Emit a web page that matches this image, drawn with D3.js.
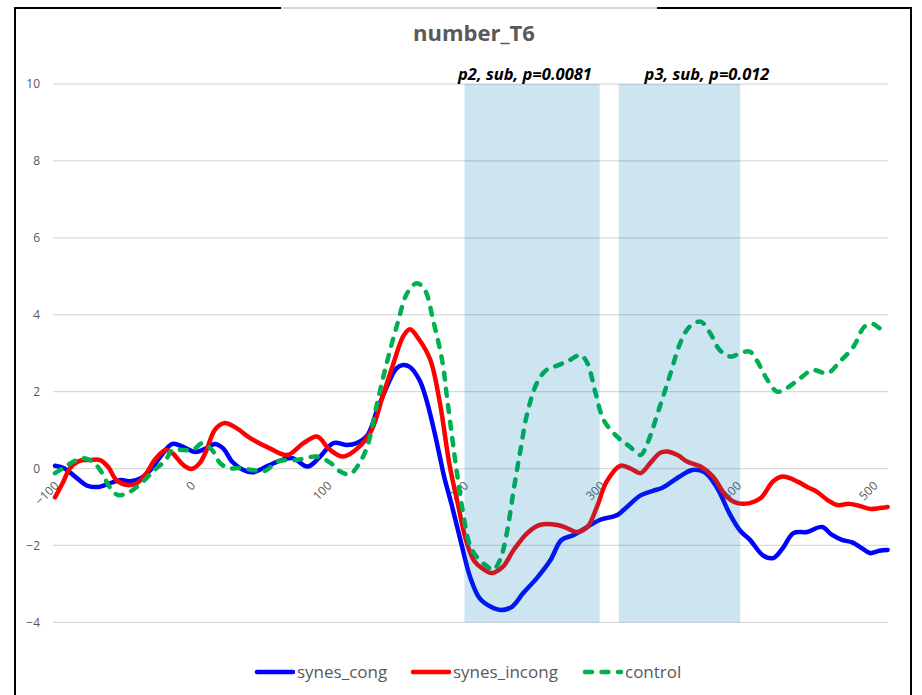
<!DOCTYPE html>
<html>
<head>
<meta charset="utf-8">
<script src="https://cdn.jsdelivr.net/npm/d3@7/dist/d3.min.js"></script>
<style>
  html, body { margin: 0; padding: 0; background: #ffffff; }
  svg { display: block; }
</style>
</head>
<body>
<svg id="chart" width="922" height="695"></svg>
<script>
// Grand-average waveforms, time in ms, amplitude in µV
const xTickValues = [-100, 0, 100, 200, 300, 400, 500];
const yTickValues = [-4, -2, 0, 2, 4, 6, 8, 10];
const seriesNames = ["synes_cong", "synes_incong", "control"];

const synesCong = [
  [-100, 0.07], [-93, 0.0], [-84, -0.25], [-76, -0.45], [-68, -0.48], [-61, -0.4],
  [-52, -0.3], [-45, -0.33], [-38, -0.27], [-30, -0.04], [-23, 0.3], [-14, 0.64],
  [-6, 0.56], [3, 0.43], [11, 0.53], [17, 0.64], [23, 0.53], [30, 0.17], [38, -0.04],
  [45, -0.1], [52, 0.0], [63, 0.18], [74, 0.27], [85, 0.05], [94, 0.3], [104, 0.66],
  [114, 0.61], [121, 0.66], [129, 0.87], [136, 1.52], [143, 2.12], [150, 2.6],
  [155, 2.69], [160, 2.64], [167, 2.3], [172, 1.8], [177, 1.1], [182, 0.3],
  [185, -0.2], [191, -1.0], [198, -2.0], [204, -2.81], [211, -3.37], [219, -3.59],
  [227, -3.68], [235, -3.59], [243, -3.24], [253, -2.85], [263, -2.38], [271, -1.86],
  [280, -1.73], [290, -1.52], [299, -1.34], [312, -1.21], [319, -1.0], [329, -0.7],
  [338, -0.58], [345, -0.5], [358, -0.2], [367, -0.04], [376, -0.1], [385, -0.5],
  [394, -1.16], [402, -1.62], [409, -1.85], [419, -2.27], [426, -2.33], [433, -2.08],
  [441, -1.68], [451, -1.65], [462, -1.52], [469, -1.72], [477, -1.86], [484, -1.92],
  [491, -2.07], [497, -2.2], [504, -2.14], [510, -2.12]
];

const synesIncong = [
  [-100, -0.75], [-94, -0.35], [-89, 0.01], [-82, 0.2], [-74, 0.22], [-67, 0.22],
  [-61, 0.04], [-55, -0.3], [-47, -0.43], [-40, -0.38], [-33, -0.12], [-27, 0.22],
  [-19, 0.48], [-14, 0.4], [-6, 0.09], [0, -0.01], [6, 0.14], [11, 0.48], [17, 1.0],
  [24, 1.18], [33, 1.05], [43, 0.79], [57, 0.53], [70, 0.35], [82, 0.66], [92, 0.83],
  [101, 0.5], [111, 0.31], [123, 0.57], [132, 1.0], [140, 1.87], [148, 2.74],
  [155, 3.43], [160, 3.62], [167, 3.34], [175, 2.82], [182, 1.7], [189, 0.1],
  [195, -0.9], [201, -1.85], [207, -2.4], [213, -2.6], [220, -2.72], [228, -2.56],
  [236, -2.12], [246, -1.68], [255, -1.47], [268, -1.47], [275, -1.55], [282, -1.65],
  [290, -1.52], [297, -1.0], [304, -0.35], [314, 0.07], [321, 0.01], [329, -0.12],
  [336, 0.14], [343, 0.4], [348, 0.44], [356, 0.35], [363, 0.18], [373, 0.05],
  [382, -0.21], [392, -0.73], [400, -0.9], [409, -0.9], [417, -0.77], [426, -0.34],
  [433, -0.21], [444, -0.34], [451, -0.48], [458, -0.6], [466, -0.82], [473, -0.95],
  [482, -0.92], [490, -0.98], [497, -1.05], [504, -1.03], [510, -1.0]
];

const control = [
  [-100, -0.12], [-94, 0.01], [-87, 0.17], [-80, 0.27], [-72, 0.17], [-66, -0.09],
  [-60, -0.48], [-54, -0.69], [-47, -0.64], [-40, -0.48], [-33, -0.25], [-27, -0.04],
  [-19, 0.22], [-14, 0.48], [-6, 0.48], [1, 0.48], [8, 0.66], [15, 0.48], [21, 0.14],
  [27, 0.01], [36, 0.01], [45, -0.04], [54, -0.06], [63, 0.18], [77, 0.22], [92, 0.31],
  [102, 0.14], [109, -0.08], [116, -0.15], [123, 0.14], [129, 0.6], [136, 1.7],
  [143, 2.74], [151, 3.78], [158, 4.56], [165, 4.82], [171, 4.64], [177, 3.86],
  [184, 2.74], [187, 1.9], [191, 0.8], [194, 0.0], [198, -0.95], [204, -2.0],
  [209, -2.3], [217, -2.56], [221, -2.64], [226, -2.38], [231, -1.68], [236, -0.56],
  [241, 0.48], [246, 1.44], [253, 2.22], [260, 2.56], [269, 2.69], [277, 2.82],
  [285, 2.95], [290, 2.74], [296, 1.96], [302, 1.26], [312, 0.82], [321, 0.57],
  [329, 0.35], [334, 0.66], [343, 1.6], [351, 2.48], [358, 3.26], [365, 3.69],
  [373, 3.82], [380, 3.52], [387, 3.08], [395, 2.91], [402, 3.0], [409, 3.04],
  [414, 2.82], [422, 2.3], [429, 2.0], [436, 2.09], [446, 2.35], [455, 2.56],
  [466, 2.48], [475, 2.78], [485, 3.17], [493, 3.69], [499, 3.76], [504, 3.65],
  [508, 3.55]
];

// Analysis windows (ms) with their test results
const windowRanges = [[200, 299], [313, 402]];
const windowLabels = ["p2, sub, p=0.0081", "p3, sub, p=0.012"];

// ---- layout ----
const W = 922, H = 695;
const plotLeft = 53, plotRight = 888;
const font = "'Open Sans', 'Liberation Sans', sans-serif";
const grey = "#595959";

const svg = d3.select("#chart");

const x = d3.scaleLinear().domain([-100, 500]).range([55, 874]);
const y = d3.scaleLinear().domain([-4, 10]).range([622.3, 84]);

svg.append("rect").attr("width", W).attr("height", H).attr("fill", "#ffffff");

// outer frame
const frame = svg.append("g").attr("fill", "none");
frame.append("line").attr("x1", 15).attr("x2", 15).attr("y1", 8).attr("y2", H)
  .attr("stroke", "#000").attr("stroke-width", 2);
frame.append("line").attr("x1", 911).attr("x2", 911).attr("y1", 8).attr("y2", H)
  .attr("stroke", "#000").attr("stroke-width", 2);
frame.append("line").attr("x1", 14).attr("x2", 281).attr("y1", 8).attr("y2", 8)
  .attr("stroke", "#000").attr("stroke-width", 2);
frame.append("line").attr("x1", 281).attr("x2", 657).attr("y1", 8).attr("y2", 8)
  .attr("stroke", "#b0b0b0").attr("stroke-width", 1);
frame.append("line").attr("x1", 657).attr("x2", 912).attr("y1", 8).attr("y2", 8)
  .attr("stroke", "#000").attr("stroke-width", 2);

// title
svg.append("text")
  .attr("x", 474).attr("y", 41)
  .attr("text-anchor", "middle")
  .attr("font-family", font).attr("font-size", 22).attr("font-weight", "bold")
  .attr("fill", grey)
  .text("number_T6");

// horizontal gridlines
svg.append("g").selectAll("line")
  .data(yTickValues)
  .join("line")
  .attr("x1", plotLeft).attr("x2", plotRight)
  .attr("y1", d => y(d)).attr("y2", d => y(d))
  .attr("stroke", "#d9d9d9").attr("stroke-width", 1.25);

// value axis labels
const yAxis = d3.axisLeft(y).tickValues(yTickValues).tickSize(0).tickPadding(0)
  .tickFormat(d3.format("d"));
const gy = svg.append("g").attr("transform", "translate(40,0)").call(yAxis);
gy.select(".domain").remove();
gy.selectAll("text")
  .attr("font-family", font).attr("font-size", 12).attr("fill", grey);

// time axis labels, rotated
const xAxis = d3.axisBottom(x).tickValues(xTickValues).tickSize(0).tickPadding(0)
  .tickFormat(d3.format("d"));
const gx = svg.append("g").attr("transform", `translate(0,${y(0)})`).call(xAxis);
gx.select(".domain").remove();
gx.selectAll("text")
  .attr("font-family", font).attr("font-size", 12).attr("fill", grey)
  .attr("text-anchor", "end")
  .attr("y", 0).attr("dy", 0)
  .attr("transform", "translate(4,18) rotate(-45)");

// waveforms
const line = d3.line()
  .x(d => x(d[0]))
  .y(d => y(d[1]))
  .curve(d3.curveCatmullRom.alpha(0.5));

const seriesData = [synesCong, synesIncong, control];
const seriesColors = ["#0000ff", "#ff0000", "#00b050"];
const seriesDash = [null, null, "7,9.5"];

svg.append("g").selectAll("path")
  .data(seriesData)
  .join("path")
  .attr("d", line)
  .attr("fill", "none")
  .attr("stroke", (d, i) => seriesColors[i])
  .attr("stroke-width", 4.5)
  .attr("stroke-linejoin", "round")
  .attr("stroke-linecap", "round")
  .attr("stroke-dasharray", (d, i) => seriesDash[i]);

// translucent analysis windows over the traces
svg.append("g").selectAll("rect")
  .data(windowRanges)
  .join("rect")
  .attr("x", d => x(d[0]))
  .attr("width", d => x(d[1]) - x(d[0]))
  .attr("y", y(10))
  .attr("height", y(-4) - y(10))
  .attr("fill", "rgb(0,125,180)")
  .attr("fill-opacity", 0.2);

// window annotations
const labelCenters = [525, 707];
svg.append("g").selectAll("text")
  .data(windowLabels)
  .join("text")
  .attr("x", (d, i) => labelCenters[i])
  .attr("y", 80)
  .attr("text-anchor", "middle")
  .attr("font-family", font).attr("font-size", 16.5)
  .attr("font-weight", "bold").attr("font-style", "italic")
  .attr("fill", "#000")
  .text(d => d);

// legend
const legendX = [255, 411, 583];
const legendY = 672;
const legend = svg.append("g").selectAll("g")
  .data(seriesNames)
  .join("g")
  .attr("transform", (d, i) => `translate(${legendX[i]},${legendY})`);
legend.append("line")
  .attr("x1", 2).attr("x2", 38).attr("y1", 0).attr("y2", 0)
  .attr("stroke", (d, i) => seriesColors[i])
  .attr("stroke-width", 4.5)
  .attr("stroke-linecap", "round")
  .attr("stroke-dasharray", (d, i) => seriesDash[i]);
legend.append("text")
  .attr("x", 42).attr("y", 5.5)
  .attr("font-family", font).attr("font-size", 17)
  .attr("fill", grey)
  .text(d => d);
</script>
</body>
</html>
